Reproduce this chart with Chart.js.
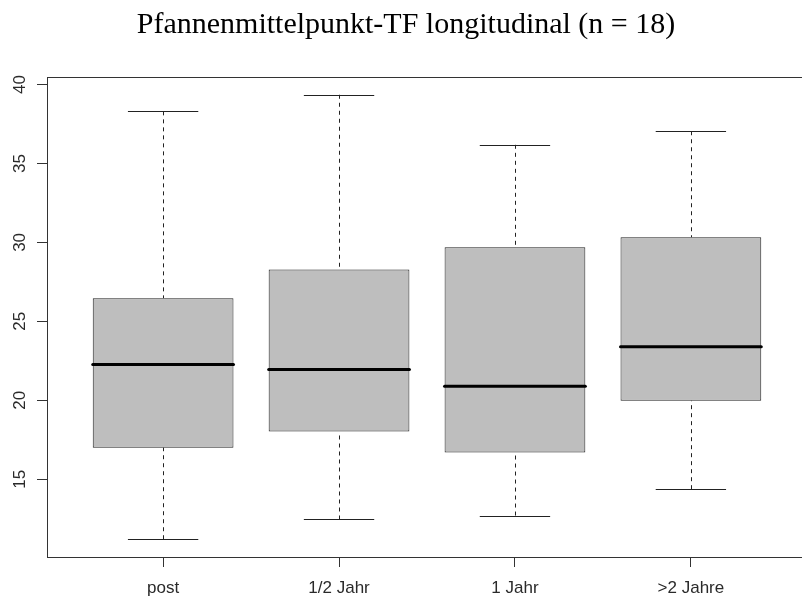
<!DOCTYPE html>
<html>
<head>
<meta charset="utf-8">
<script src="https://cdn.jsdelivr.net/npm/chart.js@4.4.1/dist/chart.umd.min.js"></script>
<style>
  html, body { margin: 0; padding: 0; background: #fff; overflow: hidden; }
  canvas { display: block; }
</style>
</head>
<body>
<canvas id="boxChart" width="810" height="598"></canvas>
<script>
// five-number summaries per group
const groups = ['post', '1/2 Jahr', '1 Jahr', '>2 Jahre'];
const whiskerLow = [11.2, 12.45, 12.7, 14.37];
const lowerQuartile = [17.0, 18.02, 16.69, 19.97];
const medians = [22.27, 21.95, 20.89, 23.39];
const upperQuartile = [26.47, 28.28, 29.7, 30.33];
const whiskerHigh = [38.3, 39.35, 36.18, 37.04];
const yTicks = [15, 20, 25, 30, 35, 40];
const titleText = 'Pfannenmittelpunkt-TF longitudinal (n = 18)';

// axis limits like R: data range plus 4% on each side
const yLo = Math.min(...whiskerLow);
const yHi = Math.max(...whiskerHigh);
const yPad = (yHi - yLo) * 0.04;
const xPad = groups.length * 0.04;

const LINE = '#333';
const TEXT = '#2a2a2a';
const SANS = '"Liberation Sans", Arial, sans-serif';

const boxPlugin = {
  id: 'boxParts',
  beforeDatasetsDraw(chart) {
    const ctx = chart.ctx;
    const y = chart.scales.y;
    const bars = chart.getDatasetMeta(0).data;
    ctx.save();
    ctx.strokeStyle = '#222';
    ctx.lineWidth = 1;
    bars.forEach((bar, i) => {
      const cx = Math.round(bar.x) + 0.5;
      const hw = bar.width / 4;
      // dashed whiskers, drawn from the staple towards the box
      ctx.setLineDash([4, 4]);
      ctx.beginPath();
      ctx.moveTo(cx, y.getPixelForValue(whiskerHigh[i]));
      ctx.lineTo(cx, y.getPixelForValue(upperQuartile[i]));
      ctx.moveTo(cx, y.getPixelForValue(whiskerLow[i]));
      ctx.lineTo(cx, y.getPixelForValue(lowerQuartile[i]));
      ctx.stroke();
      // staples
      ctx.setLineDash([]);
      ctx.beginPath();
      [whiskerHigh[i], whiskerLow[i]].forEach(v => {
        const py = Math.round(y.getPixelForValue(v)) + 0.5;
        ctx.moveTo(bar.x - hw, py);
        ctx.lineTo(bar.x + hw, py);
      });
      ctx.stroke();
    });
    ctx.restore();
  },
  afterDatasetsDraw(chart) {
    const ctx = chart.ctx;
    const y = chart.scales.y;
    const bars = chart.getDatasetMeta(0).data;
    ctx.save();
    ctx.strokeStyle = '#000';
    ctx.lineWidth = 3;
    ctx.lineCap = 'round';
    bars.forEach((bar, i) => {
      const py = y.getPixelForValue(medians[i]);
      ctx.beginPath();
      ctx.moveTo(bar.x - bar.width / 2, py);
      ctx.lineTo(bar.x + bar.width / 2, py);
      ctx.stroke();
    });
    ctx.restore();
  },
  afterDraw(chart) {
    const ctx = chart.ctx;
    const a = chart.chartArea;
    const y = chart.scales.y;
    ctx.save();
    // frame round the plot region
    ctx.strokeStyle = LINE;
    ctx.lineWidth = 1;
    ctx.strokeRect(Math.round(a.left) + 0.5, Math.round(a.top) + 0.5,
      Math.round(a.right - a.left), Math.round(a.bottom - a.top));
    // vertical y tick labels
    ctx.fillStyle = TEXT;
    ctx.font = '17px ' + SANS;
    ctx.textAlign = 'center';
    ctx.textBaseline = 'middle';
    yTicks.forEach(v => {
      ctx.save();
      ctx.translate(20, y.getPixelForValue(v));
      ctx.rotate(-Math.PI / 2);
      ctx.fillText(String(v), 0, 0);
      ctx.restore();
    });
    // title
    ctx.fillStyle = '#000';
    ctx.font = '30px "Liberation Serif", "Times New Roman", serif';
    ctx.textBaseline = 'alphabetic';
    ctx.fillText(titleText, 406, 33);
    ctx.restore();
  }
};

new Chart(document.getElementById('boxChart'), {
  type: 'bar',
  data: {
    datasets: [{
      data: groups.map((g, i) => ({ x: i + 1, y: [lowerQuartile[i], upperQuartile[i]] })),
      backgroundColor: '#bebebe',
      borderColor: '#222',
      borderWidth: 1,
      borderSkipped: false,
      barPercentage: 0.8,
      categoryPercentage: 1.0
    }]
  },
  options: {
    responsive: false,
    animation: false,
    layout: { padding: { top: 77, right: 3, left: 0, bottom: 0 } },
    plugins: {
      legend: { display: false },
      title: { display: false },
      tooltip: { enabled: false }
    },
    scales: {
      x: {
        type: 'linear',
        offset: false,
        min: 0.5 - xPad,
        max: groups.length + 0.5 + xPad,
        afterBuildTicks: s => { s.ticks = groups.map((g, i) => ({ value: i + 1 })); },
        afterFit: s => { s.height = 41; },
        grid: { offset: false, drawOnChartArea: false, drawTicks: true, tickLength: 10, tickColor: LINE },
        border: { display: true, color: LINE },
        ticks: {
          autoSkip: false,
          maxRotation: 0,
          padding: 11,
          color: TEXT,
          font: { family: SANS, size: 17 },
          callback: v => groups[v - 1]
        }
      },
      y: {
        min: yLo - yPad,
        max: yHi + yPad,
        afterBuildTicks: s => { s.ticks = yTicks.map(v => ({ value: v })); },
        afterFit: s => { s.width = 47; },
        grid: { drawOnChartArea: false, drawTicks: true, tickLength: 10, tickColor: LINE },
        border: { display: true, color: LINE },
        ticks: { display: false }
      }
    }
  },
  plugins: [boxPlugin]
});
</script>
</body>
</html>
